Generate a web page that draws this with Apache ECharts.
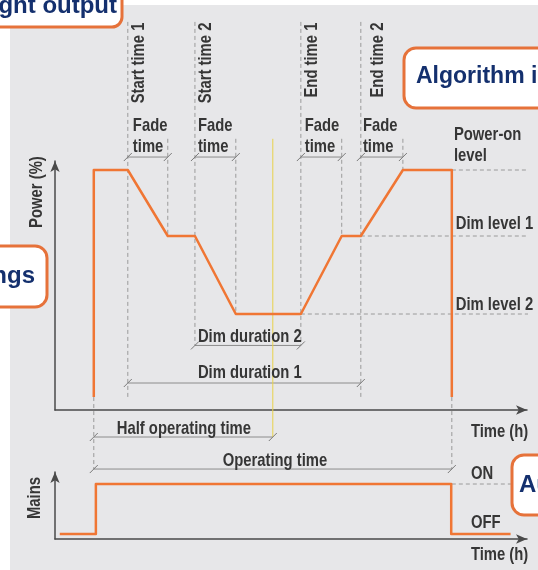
<!DOCTYPE html>
<html>
<head>
<meta charset="utf-8">
<script src="https://cdn.jsdelivr.net/npm/echarts@6/dist/echarts.min.js"></script>
<style>
  html, body { margin: 0; padding: 0; background: #fff; }
  #chart { width: 538px; height: 570px; }
</style>
</head>
<body>
<div id="chart"></div>
<script>
// time in hours after mains on, power in %
var halfTime = 6;
var profileTime  = [0, 0, 1.14, 2.48, 3.39, 4.76, 6.94, 8.31, 8.95, 10.36, 12, 12];
var profilePower = [5.4, 100, 100, 72.5, 72.5, 40, 40, 72.5, 72.5, 100, 100, 5.4];

var levelValues = [100, 72.5, 40];          // power-on, dim 1, dim 2
var levelFrom   = [10.36, 8.95, 6.94];
var levelTo     = 14.9;

var mainsTime  = [-1.14, 0.07, 0.07, 11.98, 11.98, 13.97];
var mainsState = [0, 0, 1, 1, 0, 0];
var onGuide    = [12, 13.98];

// dashed vertical guides
var guideTime   = [1.14, 2.48, 3.39, 4.76, 6.94, 8.31, 8.95, 10.36, 0, 12];
var guideTop    = [161.7, 113, 161.7, 113, 161.7, 113, 161.7, 113, 5.4, 5.4];
var guideBottom = [5, 72.5, 26.9, 40, 26.9, 72.5, 5, 100, -24.6, -24.6];

// dimension lines
var spanFrom = [1.14, 3.39, 6.94, 8.95, 3.39, 1.14, 0, 0];
var spanTo   = [2.48, 4.76, 8.31, 10.36, 6.94, 8.95, 6, 12];
var spanAt   = [105.4, 105.4, 105.4, 105.4, 26.9, 11.25, -11.25, -24.6];

// texts
var upTexts = ['Start time 1', 'Start time 2', 'End time 1', 'End time 2', 'Power (%)'];
var upTime  = [1.51, 3.76, 7.29, 9.52, -1.91];
var upValue = [144.6, 144.6, 145.8, 145.8, 90.8];

var texts = ['Fade\ntime', 'Fade\ntime', 'Fade\ntime', 'Fade\ntime', 'Power-on\nlevel',
  'Dim level 1', 'Dim level 2', 'Dim duration 2', 'Dim duration 1',
  'Half operating time', 'Operating time', 'Time (h)'];
var textTime  = [1.31, 3.49, 7.07, 9.02, 12.07, 12.13, 12.13, 3.49, 3.49, 0.77, 4.32, 12.64];
var textValue = [114, 114, 114, 114, 110.2, 77.5, 43.75, 30.4, 15.4, -7.9, -21.25, -9.2];

var mainsTexts = ['ON', 'OFF', 'Time (h)'];
var mainsTextTime = [12.64, 12.64, 12.64];
var mainsTextValue = [1.2, 0.22, -0.42];

var textColor = '#363636';
var orange = '#f07634';
var navy = '#14306e';

var chart = echarts.init(document.getElementById('chart'));

function axisX(gridIndex) {
  return {
    type: 'value', gridIndex: gridIndex, min: -1.3, max: 14.52,
    axisLine: { onZero: false, symbol: ['none', 'arrow'], symbolSize: [7, 11],
      lineStyle: { color: '#4a4a4a', width: 1.5 } },
    axisTick: { show: false }, axisLabel: { show: false }, splitLine: { show: false }
  };
}
function axisY(gridIndex, min, max) {
  return {
    type: 'value', gridIndex: gridIndex, min: min, max: max,
    axisLine: { show: true, onZero: false, symbol: ['none', 'arrow'], symbolSize: [7, 11],
      lineStyle: { color: '#4a4a4a', width: 1.5 } },
    axisTick: { show: false }, axisLabel: { show: false }, splitLine: { show: false }
  };
}

var series = [];

// dashed guides
guideTime.forEach(function (t, i) {
  series.push({
    type: 'line', xAxisIndex: 0, yAxisIndex: 0, clip: false, silent: true, symbol: 'none',
    data: [[t, guideTop[i]], [t, guideBottom[i]]],
    lineStyle: { color: '#9a9a9a', width: 1, type: [4, 3] }, z: 1
  });
});
levelValues.forEach(function (v, i) {
  series.push({
    type: 'line', xAxisIndex: 0, yAxisIndex: 0, clip: false, silent: true, symbol: 'none',
    data: [[levelFrom[i], v], [levelTo, v]],
    lineStyle: { color: '#9a9a9a', width: 1, type: [4, 3] }, z: 1
  });
});
series.push({
  type: 'line', xAxisIndex: 1, yAxisIndex: 1, clip: false, silent: true, symbol: 'none',
  data: [[onGuide[0], 1], [onGuide[1], 1]],
  lineStyle: { color: '#9a9a9a', width: 1, type: [4, 3] }, z: 1
});

// dimension lines
spanFrom.forEach(function (t, i) {
  series.push({
    type: 'line', xAxisIndex: 0, yAxisIndex: 0, clip: false, silent: true,
    symbol: 'path://M0,10L10,0', symbolSize: 8, showSymbol: true,
    itemStyle: { color: 'none', borderColor: '#7a7a7a', borderWidth: 1 },
    data: [[t, spanAt[i]], [spanTo[i], spanAt[i]]],
    lineStyle: { color: '#8c8c8c', width: 1 }, z: 2
  });
});

// half operating time marker
series.push({
  type: 'line', xAxisIndex: 0, yAxisIndex: 0, clip: false, silent: true, symbol: 'none',
  data: [[halfTime, 113], [halfTime, -11.25]],
  lineStyle: { color: '#e8d24a', width: 1 }, z: 2
});

// power profile
series.push({
  type: 'line', xAxisIndex: 0, yAxisIndex: 0, clip: false, silent: true, symbol: 'none',
  data: profileTime.map(function (t, i) { return [t, profilePower[i]]; }),
  lineStyle: { color: orange, width: 2.5, join: 'round' }, z: 5
});

// mains
series.push({
  type: 'line', xAxisIndex: 1, yAxisIndex: 1, clip: false, silent: true, symbol: 'none',
  data: mainsTime.map(function (t, i) { return [t, mainsState[i]]; }),
  lineStyle: { color: orange, width: 2.5, join: 'round' }, z: 5
});

chart.setOption({
  animation: false,
  backgroundColor: '#fff',
  grid: [
    { left: 55, right: 11, top: 161, bottom: 570 - 410 },
    { left: 55, right: 11, top: 472, bottom: 570 - 539 }
  ],
  xAxis: [axisX(0), axisX(1)],
  yAxis: [axisY(0, 0, 103.75), axisY(1, -0.1, 1.24)],
  series: series
});

// condensed labels placed through the axes
var labelFont = 'bold 19px "Liberation Sans", Arial, sans-serif';
function place(names, times, values, gridIndex, rotate, align) {
  return names.map(function (s, i) {
    var p = chart.convertToPixel({ gridIndex: gridIndex }, [times[i], values[i]]);
    return {
      type: 'text', silent: true, z: 50, x: p[0], y: p[1],
      rotation: rotate ? Math.PI / 2 : 0, scaleX: 0.78,
      style: { text: s, fill: textColor, font: labelFont, align: align,
        verticalAlign: 'middle', lineHeight: 21 }
    };
  });
}

var boxStyle = { fill: '#fff', stroke: '#e6723a', lineWidth: 3 };
var boxFont = 'bold 24px "Liberation Sans", Arial, sans-serif';
var graphics = [
  { type: 'rect', z: -100, shape: { x: 10, y: 5, width: 540, height: 580 }, style: { fill: '#e7e7e9' } },
  { type: 'rect', z: 100, shape: { x: -20, y: -20, width: 142, height: 47, r: 10 }, style: boxStyle },
  { type: 'text', z: 101, x: 117, y: 6, style: { text: 'Light output', fill: navy, font: boxFont, align: 'right', verticalAlign: 'middle' } },
  { type: 'rect', z: 100, shape: { x: 404, y: 48, width: 200, height: 60, r: 12 }, style: boxStyle },
  { type: 'text', z: 101, x: 416, y: 77, style: { text: 'Algorithm input', fill: navy, font: 'bold 23px "Liberation Sans", Arial, sans-serif', align: 'left', verticalAlign: 'middle' } },
  { type: 'rect', z: 100, shape: { x: -100, y: 246, width: 147, height: 61, r: 12 }, style: boxStyle },
  { type: 'text', z: 101, x: 35, y: 276, style: { text: 'Settings', fill: navy, font: boxFont, align: 'right', verticalAlign: 'middle' } },
  { type: 'rect', z: 100, shape: { x: 512, y: 455, width: 120, height: 60, r: 12 }, style: boxStyle },
  { type: 'text', z: 101, x: 519, y: 485, style: { text: 'Automatic', fill: navy, font: boxFont, align: 'left', verticalAlign: 'middle' } }
]
  .concat(place(upTexts, upTime, upValue, 0, true, 'center'))
  .concat(place(texts, textTime, textValue, 0, false, 'left'))
  .concat(place(mainsTexts, mainsTextTime, mainsTextValue, 1, false, 'left'))
  .concat(place(['Mains'], [-1.98], [0.72], 1, true, 'center'));

chart.setOption({ graphic: graphics });
</script>
</body>
</html>
